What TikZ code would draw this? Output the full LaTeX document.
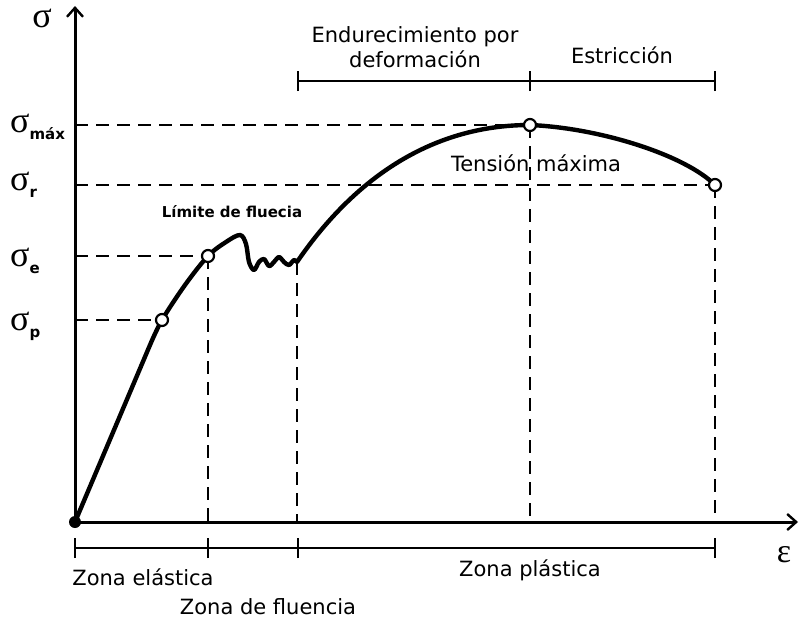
\documentclass[tikz,border=0pt]{standalone}
\usepackage{fontspec}
\setmainfont{DejaVu Sans}
\newfontfamily\grk{Liberation Serif}
\usetikzlibrary{arrows.meta}

\newcommand{\sig}[1]{{\grk σ}\raisebox{-7pt}{\fontsize{15}{15}\selectfont\bfseries #1}}

\begin{document}
\begin{tikzpicture}[x=1pt,y=-1pt,
        axis/.style={line width=3pt,-{Straight Barb[length=9pt,width=16pt,line width=2.4pt]}},
        curve/.style={line width=4.4pt,line cap=round,line join=round},
        guide/.style={line width=1.8pt,dash pattern=on 13pt off 8pt},
        span/.style={line width=2pt},
        pt/.style={circle,draw,fill=white,line width=2.2pt,inner sep=0pt,minimum size=12pt},
        sig/.style={anchor=base west,inner sep=0pt,font=\fontsize{36}{36}\selectfont},
        lbl/.style={font=\fontsize{21}{25}\selectfont,inner sep=0pt}]

    \useasboundingbox (0,0) rectangle (799,619);

    % Key points
    \coordinate (O) at (75,522);
    \coordinate (ytop) at (75,6);
    \coordinate (xend) at (798,522);
    \coordinate (cP) at (162,320);
    \coordinate (cE) at (208,256);
    \coordinate (cY) at (297,262);
    \coordinate (cM) at (530,125);
    \coordinate (cR) at (715,185);

    % Guides
    \draw[guide] (O |- cM) -- (cM);
    \draw[guide] (O |- cR) -- (cR);
    \draw[guide] (O |- cE) -- (cE);
    \draw[guide] (O |- cP) -- (cP);
    \foreach \c in {cE,cY,cM,cR}
        \draw[guide] (\c) -- (\c |- O);

    % Axes
    \draw[axis] (O) -- (ytop);
    \draw[axis] (O) -- (xend);
    \node[font=\fontsize{36}{36}\selectfont\grk,anchor=base] (sy) at (42,27) {σ};
    \node[font=\fontsize{34}{34}\selectfont\grk,anchor=base] (ex) at (784,562) {ε};

    % Stress-strain curve
    \draw[curve] (O) -- (150,345)
        plot[smooth,tension=0.55] coordinates {
        (150,345) (cP) (185,285) (cE) (226,242) (240,235) (246,244)
        (249,262) (254,270) (259,262) (264,259) (269,266) (274,262)
        (279,257) (284,262) (289,265) (294,260) (cY)}
        .. controls (360,170) and (440,125) .. (cM)
        .. controls (600,128) and (685,155) .. (cR);
    \fill (O) circle (6pt);
    \node[pt] (p) at (cP) {};
    \node[pt] (e) at (cE) {};
    \node[pt] (m) at (cM) {};
    \node[pt] (r) at (cR) {};

    % Stress labels
    \node[sig] (smax) at (10,132) {\sig{máx}};
    \node[sig] (sr) at (10,190) {\sig{r}};
    \node[sig] (se) at (10,266) {\sig{e}};
    \node[sig] (sp) at (10,330) {\sig{p}};

    % Zones
    \coordinate (b0) at (75,548);
    \coordinate (b1) at (208,548);
    \coordinate (b2) at (298,548);
    \coordinate (b3) at (715,548);
    \coordinate (t0) at (298,81);
    \coordinate (t1) at (530,81);
    \coordinate (t2) at (715,81);
    \draw[span] (b0) -- (b3);
    \draw[span] (t0) -- (t2);
    \foreach \c in {b0,b1,b2,b3,t0,t1,t2}
        \draw[span] ([yshift=-10pt]\c) -- ([yshift=10pt]\c);

    \node[lbl] (zel) at (143,577) {Zona elástica};
    \node[lbl] (zfl) at (268,607) {Zona de fluencia};
    \node[lbl] (zpl) at (530,570) {Zona plástica};
    \node[lbl,align=center] (endu) at (415,47) {Endurecimiento por\\deformación};
    \node[lbl] (estr) at (622,55) {Estricción};
    \node[lbl] (tmax) at (536,163) {Tensión máxima};
    \node[lbl,font=\fontsize{15}{18}\selectfont\bfseries] (lfl) at (232,212) {Límite de fluecia};
\end{tikzpicture}
\end{document}
